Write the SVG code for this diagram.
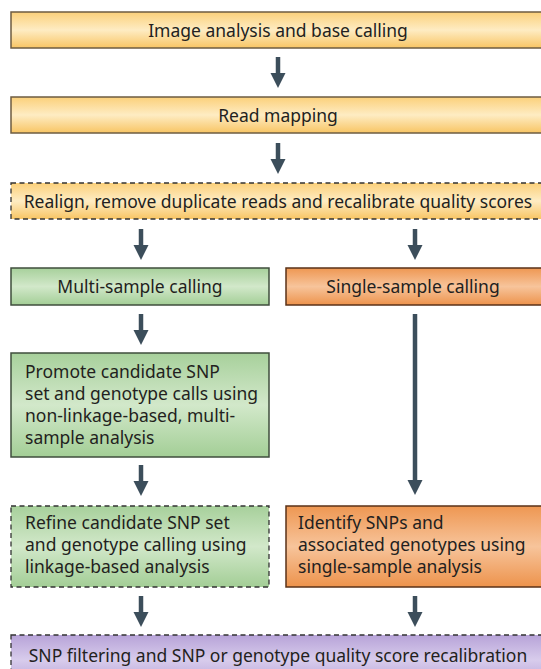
<svg xmlns="http://www.w3.org/2000/svg" width="541" height="669" viewBox="0 0 541 669">
<defs>
<linearGradient id="gy" x1="0" y1="0" x2="0" y2="1"><stop offset="0" stop-color="#fbd07a"/><stop offset="0.5" stop-color="#feecc3"/><stop offset="1" stop-color="#f8c564"/></linearGradient>
<linearGradient id="gg" x1="0" y1="0" x2="0" y2="1"><stop offset="0" stop-color="#a7d09b"/><stop offset="0.5" stop-color="#d2e8ca"/><stop offset="1" stop-color="#a3ce96"/></linearGradient>
<linearGradient id="go" x1="0" y1="0" x2="0" y2="1"><stop offset="0" stop-color="#ee9752"/><stop offset="0.5" stop-color="#f7c49b"/><stop offset="1" stop-color="#ed934c"/></linearGradient>
<linearGradient id="gp" x1="0" y1="0" x2="0" y2="1"><stop offset="0" stop-color="#b7a3d8"/><stop offset="0.5" stop-color="#d8ccec"/><stop offset="1" stop-color="#b7a3d8"/></linearGradient>
</defs>
<style>
text{font-family:"Noto Sans","Open Sans","Liberation Sans",sans-serif;font-size:17.5px;fill:#231f20}
.c{text-anchor:middle}
.y{fill:url(#gy);stroke:#6e5c42;stroke-width:1.5}
.g{fill:url(#gg);stroke:#3f4d3d;stroke-width:1.5}
.o{fill:url(#go);stroke:#5a3218;stroke-width:1.5}
.d{stroke:#333;stroke-dasharray:5,3.5;stroke-width:1.3}
.p{fill:url(#gp)}
.a{stroke:#3c4e5b;stroke-width:4.5;fill:none}
.h{fill:#3c4e5b}
</style>
<g id="connectors">
<line class="a" x1="278" y1="57" x2="278" y2="74"/><path class="h" d="M270.5,73 L285.5,73 L278,88 Z"/>
<line class="a" x1="278" y1="143" x2="278" y2="160"/><path class="h" d="M270.5,159 L285.5,159 L278,174 Z"/>
<line class="a" x1="141" y1="229" x2="141" y2="246"/><path class="h" d="M133.5,245 L148.5,245 L141,260 Z"/>
<line class="a" x1="415" y1="229" x2="415" y2="246"/><path class="h" d="M407.5,245 L422.5,245 L415,260 Z"/>
<line class="a" x1="141" y1="314" x2="141" y2="331"/><path class="h" d="M133.5,330 L148.5,330 L141,345 Z"/>
<line class="a" x1="415" y1="314" x2="415" y2="481"/><path class="h" d="M407.5,480 L422.5,480 L415,495 Z"/>
<line class="a" x1="141" y1="465" x2="141" y2="482"/><path class="h" d="M133.5,481 L148.5,481 L141,496 Z"/>
<line class="a" x1="141" y1="596" x2="141" y2="613"/><path class="h" d="M133.5,612 L148.5,612 L141,627 Z"/>
<line class="a" x1="415" y1="596" x2="415" y2="613"/><path class="h" d="M407.5,612 L422.5,612 L415,627 Z"/>
</g>
<g id="n1"><rect class="y" x="11" y="12" width="560" height="36"/><text class="c" x="278" y="37">Image analysis and base calling</text></g>
<g id="n2"><rect class="y" x="11" y="97" width="560" height="36"/><text class="c" x="278" y="122">Read mapping</text></g>
<g id="n3"><rect class="y d" x="11" y="183" width="560" height="36"/><text class="c" x="278" y="208">Realign, remove duplicate reads and recalibrate quality scores</text></g>
<g id="n4"><rect class="g" x="11" y="268" width="258" height="37"/><text class="c" x="140" y="293">Multi-sample calling</text></g>
<g id="n5"><rect class="o" x="286" y="268" width="280" height="37"/><text class="c" x="413" y="293">Single-sample calling</text></g>
<g id="n6"><rect class="g" x="11" y="353" width="258" height="104"/><text x="25" y="378">Promote candidate SNP</text><text x="25" y="400">set and genotype calls using</text><text x="25" y="422">non-linkage-based, multi-</text><text x="25" y="444">sample analysis</text></g>
<g id="n7"><rect class="g d" x="11" y="506" width="258" height="81"/><text x="25" y="529">Refine candidate SNP set</text><text x="25" y="551">and genotype calling using</text><text x="25" y="573">linkage-based analysis</text></g>
<g id="n8"><rect class="o" x="286" y="506" width="280" height="81"/><text x="298" y="529">Identify SNPs and</text><text x="298" y="551">associated genotypes using</text><text x="298" y="573">single-sample analysis</text></g>
<g id="n9"><rect class="p d" x="11" y="635" width="560" height="50"/><text class="c" x="278" y="662">SNP filtering and SNP or genotype quality score recalibration</text></g>
</svg>
